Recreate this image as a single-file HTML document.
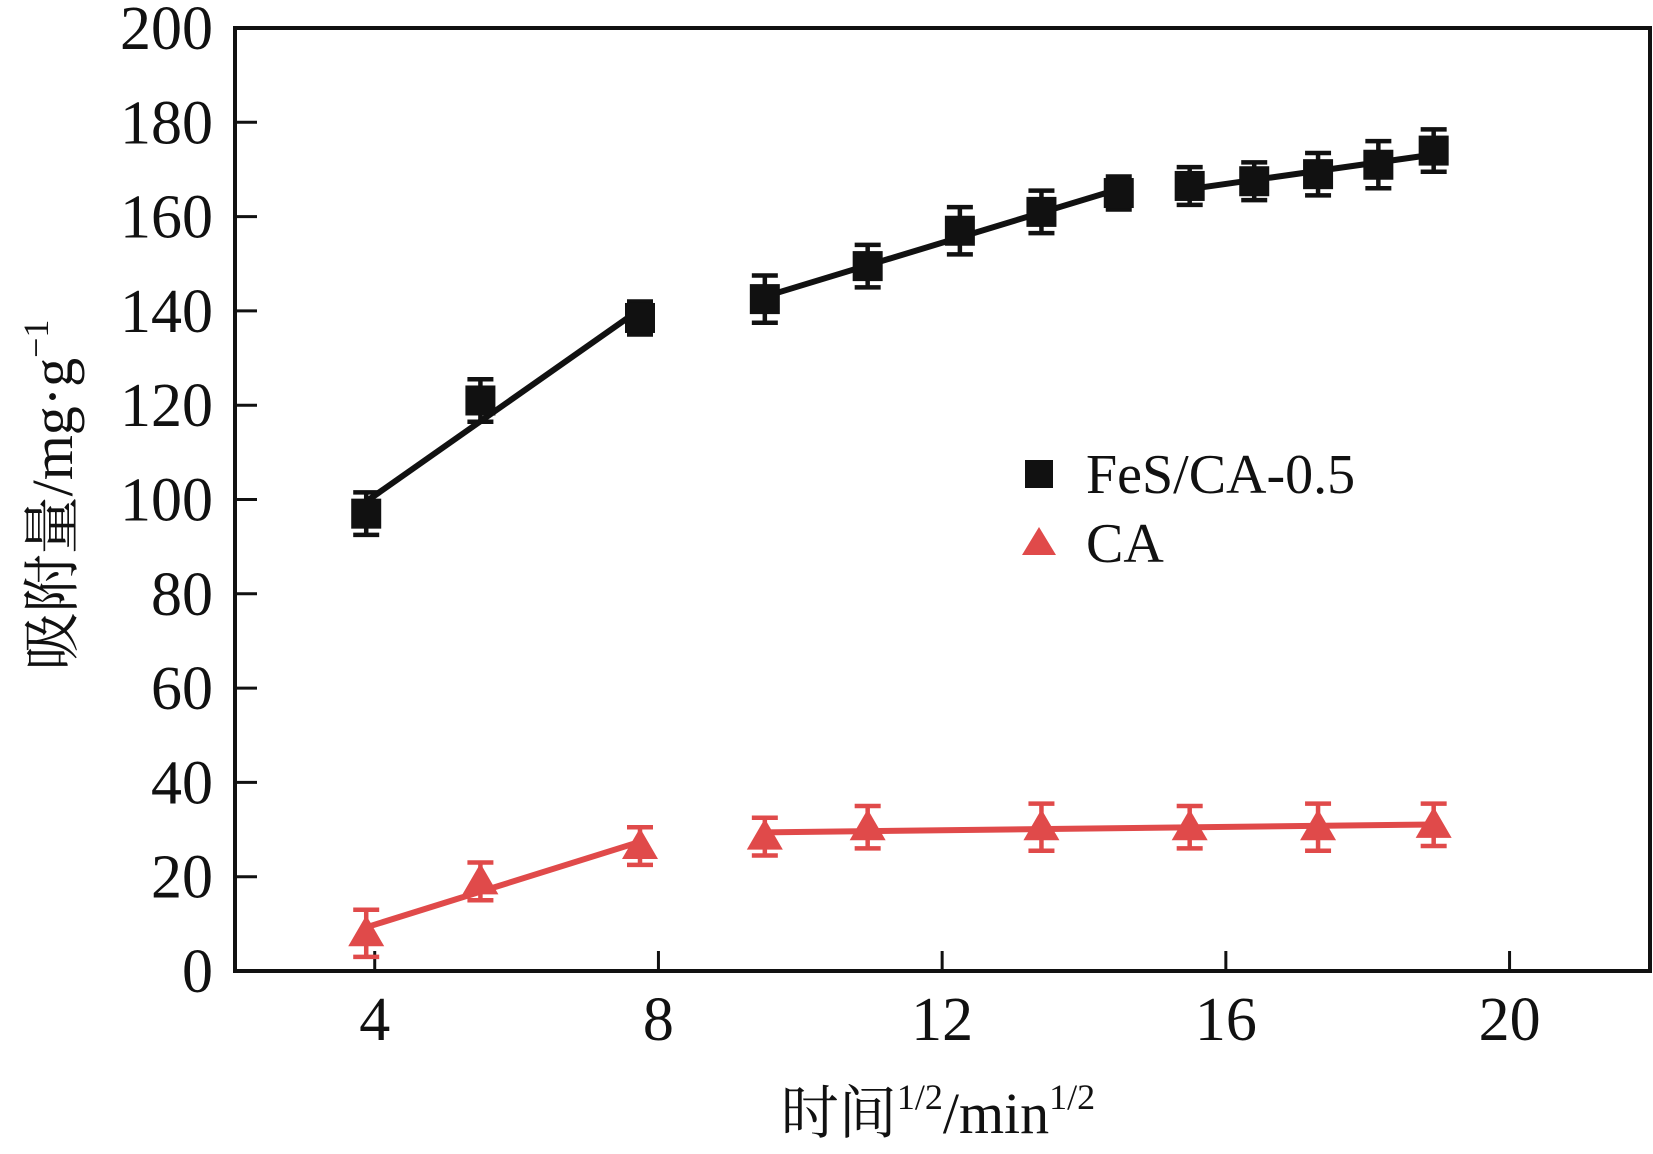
<!DOCTYPE html>
<html><head><meta charset="utf-8"><style>
html,body{margin:0;padding:0;background:#fff;}
svg{display:block;}
text{font-family:"Liberation Serif","Noto Serif CJK SC",serif;}
</style></head><body>
<svg id="chart" width="1653" height="1154" viewBox="0 0 1653 1154" xmlns="http://www.w3.org/2000/svg">
<g id="axes"></g><g id="series"></g>
<g>
<rect x="1025" y="460" width="28" height="28" fill="#111"/>
<text x="1086" y="493" font-size="56" fill="#111">FeS/CA-0.5</text>
<polygon points="1039,527 1056,555 1022,555" fill="#e04a4a"/>
<text x="1086" y="562" font-size="56" fill="#111">CA</text>
</g>
<text transform="translate(72,495) rotate(-90)" text-anchor="middle" font-size="58" fill="#111">吸附量/mg·g<tspan dy="-24" font-size="36">−1</tspan></text>
<text x="938" y="1133" text-anchor="middle" font-size="58" fill="#111">时间<tspan dy="-24" font-size="36">1/2</tspan><tspan dy="24">/min</tspan><tspan dy="-24" font-size="36">1/2</tspan></text>
</svg>
<script>
const xTicks=[4,8,12,16,20];
const yTicks=[0,20,40,60,80,100,120,140,160,180,200];
const fesX=[3.88,5.49,7.74,9.5,10.95,12.25,13.4,14.49,15.49,16.4,17.3,18.15,18.93];
const fesY=[97,121,138.5,142.5,149.5,157,161,165,166.5,167.5,169,171,174];
const fesErr=[4.5,4.5,3.5,5,4.5,5,4.5,3.5,4,4,4.5,5,4.5];
const fesSegments=[[0,2],[3,7],[8,12]];
const caX=[3.88,5.49,7.74,9.5,10.95,13.4,15.49,17.3,18.93];
const caY=[8,19,26.5,28.5,30.5,30.5,30.5,30.5,31];
const caErr=[5,4,4,4,4.5,5,4.5,5,4.5];
const caSegments=[[0,2],[3,8]];

const NS="http://www.w3.org/2000/svg";
const L=235,R=1650,T=28,B=971;
const xmin=2.03,xmax=21.98;
function sx(v){return L+(v-xmin)/(xmax-xmin)*(R-L);}
function sy(v){return B-v/200*(B-T);}
function mk(tag,attrs,parent){const e=document.createElementNS(NS,tag);for(const k in attrs)e.setAttribute(k,attrs[k]);parent.appendChild(e);return e;}
const axes=document.getElementById('axes'),series=document.getElementById('series');
const frame=mk('rect',{x:L,y:T,width:R-L,height:B-T,fill:'none',stroke:'#111','stroke-width':4},axes);


yTicks.forEach(v=>{
 const t=mk('line',{x1:L,x2:L+22,y1:sy(v),y2:sy(v),stroke:'#111','stroke-width':3},axes);
 
 
 const tx=mk('text',{x:213,y:sy(v)+21,'text-anchor':'end','font-size':62,fill:'#111'},axes);
 tx.textContent=v;
 
 
});
xTicks.forEach(v=>{
 const t=mk('line',{x1:sx(v),x2:sx(v),y1:B,y2:B-20,stroke:'#111','stroke-width':3},axes);
 
 
 const tx=mk('text',{x:sx(v),y:1040,'text-anchor':'middle','font-size':62,fill:'#111'},axes);
 tx.textContent=v;
 
 
});
function fit(xs,ys){const n=xs.length;let mx=0,my=0;xs.forEach((x,i)=>{mx+=x;my+=ys[i];});mx/=n;my/=n;let a=0,b=0;xs.forEach((x,i)=>{a+=(x-mx)*(ys[i]-my);b+=(x-mx)*(x-mx);});const k=a/b;return[k,my-k*mx];}
function draw(X,Y,E,segs,color,shape,name){
 segs.forEach(([s,e])=>{
  const xs=X.slice(s,e+1),ys=Y.slice(s,e+1);const [k,c]=fit(xs,ys);
  const ln=mk('line',{x1:sx(xs[0]),y1:sy(k*xs[0]+c),x2:sx(xs[xs.length-1]),y2:sy(k*xs[xs.length-1]+c),stroke:color,'stroke-width':6},series);
  
  
 });
 X.forEach((x,i)=>{
  const px=sx(x),py=sy(Y[i]),t=sy(Y[i]+E[i]),b=sy(Y[i]-E[i]);
  const g=mk('g',{},series);
  
  
  mk('line',{x1:px,x2:px,y1:t,y2:b,stroke:color,'stroke-width':4.5},g);
  mk('line',{x1:px-13,x2:px+13,y1:t,y2:t,stroke:color,'stroke-width':4.5},g);
  mk('line',{x1:px-13,x2:px+13,y1:b,y2:b,stroke:color,'stroke-width':4.5},g);
  if(shape==='sq')mk('rect',{x:px-15,y:py-15,width:30,height:30,fill:color},g);
  else mk('polygon',{points:`${px},${py-18} ${px+18},${py+13} ${px-18},${py+13}`,fill:color},g);
 });
}
draw(caX,caY,caErr,caSegments,'#e04a4a','tri','ca');
draw(fesX,fesY,fesErr,fesSegments,'#111','sq','fes');
</script>
</body></html>
